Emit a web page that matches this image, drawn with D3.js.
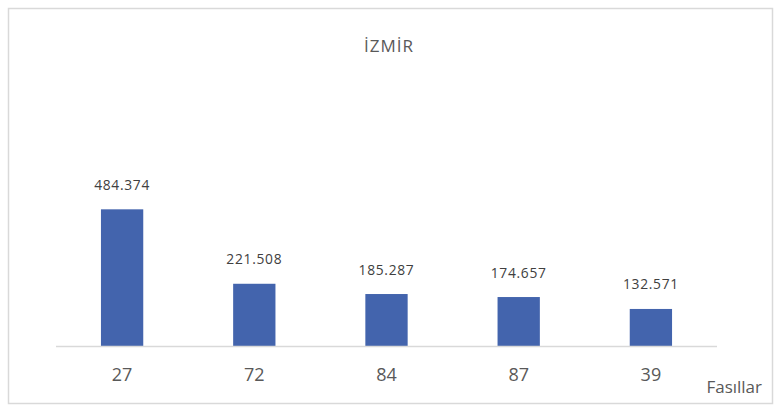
<!DOCTYPE html>
<html>
<head>
<meta charset="utf-8">
<script src="https://cdn.jsdelivr.net/npm/d3@7"></script>
<style>
  body { margin: 0; background: #fff; }
  text { font-family: "Open Sans", sans-serif; fill: #595959; }
</style>
</head>
<body>
<svg width="784" height="415"></svg>
<script>
var categories = ["27", "72", "84", "87", "39"]
var values = [484.374, 221.508, 185.287, 174.657, 132.571]
var valueLabels = ["484.374", "221.508", "185.287", "174.657", "132.571"]
var title = "İZMİR"
var axisTitle = "Fasıllar"

var svg = d3.select("svg"),
    width = +svg.attr("width"),
    height = +svg.attr("height")

// chart frame
svg.append("rect")
    .attr("x", 8.5).attr("y", 8.5)
    .attr("width", 764).attr("height", 395)
    .attr("fill", "#fff")
    .attr("stroke", "#d9d9d9")
    .attr("stroke-width", 1.5)

var x = d3.scaleBand()
    .domain(categories)
    .range([56, 717])
    .paddingInner(0.68)
    .paddingOuter(0.34)

var y = d3.scaleLinear()
    .domain([0, 500])
    .range([346.5, 346.5 - 141.6])

var g = svg.append("g")

g.selectAll(".bar")
    .data(values)
    .enter().append("rect")
    .attr("class", "bar")
    .attr("x", function(d, i) { return x(categories[i]) })
    .attr("y", function(d) { return y(d) })
    .attr("width", x.bandwidth())
    .attr("height", function(d) { return y(0) - y(d) })
    .attr("fill", "#4364ad")

g.selectAll(".lbl")
    .data(values)
    .enter().append("text")
    .attr("class", "lbl")
    .attr("x", function(d, i) { return x(categories[i]) + x.bandwidth() / 2 })
    .attr("y", function(d) { return y(d) - 19.5 })
    .attr("text-anchor", "middle")
    .attr("font-size", "13.8px")
    .attr("letter-spacing", "0.7px")
    .style("fill", "#404040")
    .text(function(d, i) { return valueLabels[i] })

// x axis
var axis = svg.append("g")
    .attr("transform", "translate(0," + y(0) + ")")
    .call(d3.axisBottom(x).tickSize(0).tickPadding(22))

axis.select(".domain")
    .attr("stroke", "#d9d9d9")
    .attr("stroke-width", 1.5)
    .attr("d", "M56,0H717")

axis.selectAll("text")
    .attr("font-family", "Open Sans, sans-serif")
    .attr("font-size", "18px")
    .attr("fill", "#595959")

svg.append("text")
    .attr("x", 389)
    .attr("y", 52)
    .attr("text-anchor", "middle")
    .attr("font-size", "17px")
    .attr("letter-spacing", "1px")
    .text(title)

svg.append("text")
    .attr("x", 762)
    .attr("y", 393)
    .attr("text-anchor", "end")
    .attr("font-size", "17px")
    .text(axisTitle)
</script>
</body>
</html>
